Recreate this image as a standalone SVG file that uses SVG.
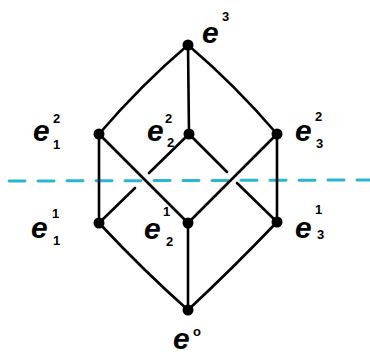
<svg xmlns="http://www.w3.org/2000/svg" width="370" height="356" viewBox="0 0 370 356">
<style>
.e{stroke:#000;stroke-width:2.6;stroke-linecap:round;fill:none}
.n{fill:#000}
.t{font-family:"Liberation Sans",Arial,sans-serif;fill:#000}
.b{font-size:30px;font-style:italic;font-weight:bold}
.s{font-size:13px;font-weight:bold}
.d{stroke:#2bb5d2;stroke-width:3;stroke-dasharray:16 13;stroke-linecap:round;fill:none}
</style>
<rect width="370" height="356" fill="#fff"/>
<g id="cut"><line class="d" x1="9" y1="181" x2="370" y2="180"/></g>
<g id="connectors">
<path class="e" d="M188 45 Q141 85 99 134"/>
<line class="e" x1="188" y1="45" x2="189" y2="134"/>
<path class="e" d="M188 45 Q235 85 277 134"/>
<line class="e" x1="99" y1="134" x2="99" y2="223"/>
<line class="e" x1="277" y1="134" x2="277" y2="222"/>
<line class="e" x1="99" y1="134" x2="188" y2="223"/>
<line class="e" x1="277" y1="134" x2="188" y2="223"/>
<line class="e" x1="189" y1="134" x2="149" y2="173"/>
<line class="e" x1="135" y1="188" x2="99" y2="223"/>
<line class="e" x1="189" y1="134" x2="227" y2="172"/>
<line class="e" x1="237" y1="183" x2="277" y2="222"/>
<path class="e" d="M99 223 Q145 272 188 310"/>
<line class="e" x1="188" y1="223" x2="188" y2="310"/>
<path class="e" d="M277 222 Q233 268 188 310"/>
</g>
<g id="e3"><circle class="n" cx="188" cy="45" r="5.5"/><text class="t b" x="202" y="43">e</text><text class="t s" x="222" y="21">3</text></g>
<g id="e12"><circle class="n" cx="99" cy="134" r="5.5"/><text class="t b" x="33" y="141">e</text><text class="t s" x="53" y="123">2</text><text class="t s" x="53" y="149">1</text></g>
<g id="e22"><circle class="n" cx="189" cy="134" r="5.5"/><text class="t b" x="147" y="141">e</text><text class="t s" x="165" y="123">2</text><text class="t s" x="167" y="147">2</text></g>
<g id="e32"><circle class="n" cx="277" cy="134" r="5.5"/><text class="t b" x="295" y="141">e</text><text class="t s" x="315" y="121">2</text><text class="t s" x="316" y="148">3</text></g>
<g id="e11"><circle class="n" cx="99" cy="223" r="5.5"/><text class="t b" x="31" y="238">e</text><text class="t s" x="52" y="218">1</text><text class="t s" x="53" y="245">1</text></g>
<g id="e21"><circle class="n" cx="188" cy="223" r="5.5"/><text class="t b" x="144" y="239">e</text><text class="t s" x="163" y="216">1</text><text class="t s" x="166" y="246">2</text></g>
<g id="e31"><circle class="n" cx="277" cy="222" r="5.5"/><text class="t b" x="295" y="238">e</text><text class="t s" x="315" y="214">1</text><text class="t s" x="317" y="239">3</text></g>
<g id="e0"><circle class="n" cx="188" cy="310" r="5.5"/><text class="t b" x="173" y="349">e</text><text class="t s" x="193" y="336">o</text></g>
</svg>
